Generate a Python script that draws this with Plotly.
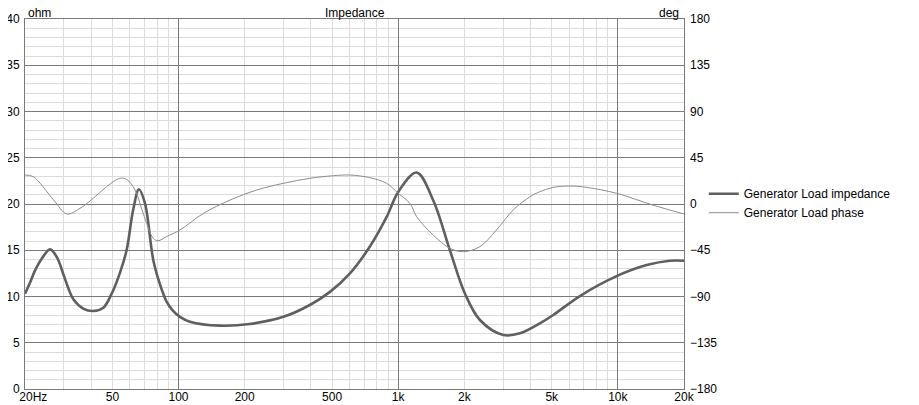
import plotly.graph_objects as go

# impedance curve (Hz, ohm)
imp_freq = [20, 21, 22.2, 24, 26, 28, 29.9, 31.5, 33.2, 36.8, 40.9, 45.3, 49.6, 54, 58, 62.2, 66, 70.3,
            76.8, 82.6, 88, 94, 101.5, 112.7, 154, 211, 300, 396, 489, 603, 743, 886,
            1000, 1213, 1443, 1719, 2014, 2355, 3008, 3583, 4415, 5080, 6715, 9870,
            13520, 17260, 20000]
imp_ohm = [10.3, 11.4, 12.8, 14.2, 15.1, 14.2, 12.4, 10.9, 9.7, 8.7, 8.43, 8.75, 10.3, 12.5, 15.0, 19.4, 21.6, 20.1,
           13.9, 11.2, 9.5, 8.5, 7.8, 7.28, 6.85, 7.03, 7.8, 9.08, 10.5, 12.5, 15.4, 18.6,
           21.3, 23.4, 20.4, 15.0, 10.3, 7.46, 5.84, 6.02, 7.1, 8.0, 10.05, 12.2,
           13.4, 13.87, 13.87]

# phase curve (Hz, deg)
ph_freq = [20, 21.8, 27, 31, 35.6, 40.9, 47, 54, 58, 63.4, 69, 76.8, 80.8, 88, 101.5,
           130, 172, 227, 300, 396, 506, 603, 743, 886, 1000, 1130, 1213, 1443, 1719,
           1976, 2355, 2800, 3340, 3980, 4415, 5080, 6040, 7180, 9870, 14400, 20000]
ph_deg = [28.2, 26.6, 3.9, -9.7, -4.2, 5.5, 16.8, 25.0, 24.0, 13.6, -9.0, -33.4, -35.7, -31.8, -25.3,
          -9.0, 3.9, 13.6, 20.1, 25.0, 27.5, 28.2, 25.6, 20.1, 10.4, 0.7, -12.3, -30.2, -43.1,
          -46.4, -41.5, -25.3, -5.8, 7.1, 12.0, 16.2, 17.5, 16.2, 10.4, -1.0, -9.7]

x_tickvals = [20, 50, 100, 200, 500, 1000, 2000, 5000, 10000, 20000]
x_ticktext = ["\u00a0\u00a0\u00a0\u00a0\u00a020Hz", "50", "100", "200", "500",
              "1k", "2k", "5k", "10k", "20k"]
decades = [100, 1000, 10000]
minor_vals = [m * d for d in [10, 100, 1000, 10000] for m in range(2, 10)
              if 20 <= m * d <= 20000]

FONT = "Liberation Sans, Arial, sans-serif"
MINOR = "#dcdcdc"
MAJOR = "#7a7a7a"

fig = go.Figure()

fig.add_trace(
    go.Scatter(
        x=imp_freq,
        y=imp_ohm,
        mode='lines',
        line=dict(color='#5f5f5f', width=2.6, shape='spline', smoothing=1.0),
        name='Generator Load impedance',
    )
)

fig.add_trace(
    go.Scatter(
        x=ph_freq,
        y=ph_deg,
        mode='lines',
        line=dict(color='#8c8c8c', width=1, shape='spline', smoothing=1.0),
        name='Generator Load phase',
        xaxis='x2',
        yaxis='y2',
    )
)

# the page body keeps an 8px margin, so the figure is 8px smaller than the window
fig.update_layout(
    width=911,
    height=397,
    autosize=False,
    paper_bgcolor='white',
    plot_bgcolor='white',
    margin={"l": 17, "r": 235, "t": 11, "b": 16, "autoexpand": False},
    font=dict(family=FONT, size=12, color='#000000'),
    showlegend=True,
    legend=dict(x=1.03, y=0.567, xanchor='left', yanchor='top',
                font=dict(size=12), tracegroupgap=0, itemwidth=30,
                bgcolor='rgba(0,0,0,0)'),
    xaxis=dict(
        type='log',
        range=[1.30103, 4.30103],
        tickvals=x_tickvals,
        ticktext=x_ticktext,
        showgrid=True,
        gridcolor=MINOR,
        gridwidth=1,
        minor=dict(tickvals=minor_vals, showgrid=True, gridcolor=MINOR, gridwidth=1),
        ticks='',
        ticklabelstandoff=-3,
        ticklabeloverflow='allow',
        showline=True,
        linecolor=MAJOR,
        mirror=True,
        zeroline=False,
        automargin=False,
    ),
    xaxis2=dict(
        type='log',
        range=[1.30103, 4.30103],
        overlaying='x',
        tickvals=decades,
        showticklabels=False,
        showgrid=True,
        gridcolor=MAJOR,
        gridwidth=1,
        ticks='',
        zeroline=False,
        automargin=False,
    ),
    yaxis=dict(
        range=[0, 40],
        dtick=5,
        showgrid=True,
        gridcolor=MAJOR,
        gridwidth=1,
        minor=dict(dtick=1, showgrid=True, gridcolor=MINOR, gridwidth=1),
        ticks='',
        ticklabelstandoff=2,
        ticklabeloverflow='allow',
        showline=True,
        linecolor=MAJOR,
        mirror=True,
        zeroline=False,
        automargin=False,
    ),
    yaxis2=dict(
        range=[-180, 180],
        dtick=45,
        overlaying='y',
        side='right',
        anchor='x2',
        showgrid=False,
        ticks='',
        ticklabelstandoff=5,
        ticklabeloverflow='allow',
        zeroline=False,
        automargin=False,
    ),
    annotations=[
        dict(text='Impedance', x=0.5, y=1, xref='paper', yref='paper',
             xanchor='center', yanchor='middle', showarrow=False, yshift=6),
        dict(text='ohm', x=0, y=1, xref='paper', yref='paper',
             xanchor='left', yanchor='middle', showarrow=False, xshift=1, yshift=6),
        dict(text='deg', x=1, y=1, xref='paper', yref='paper',
             xanchor='right', yanchor='middle', showarrow=False, xshift=-3, yshift=6),
    ],
)

fig.write_html("out.html")
